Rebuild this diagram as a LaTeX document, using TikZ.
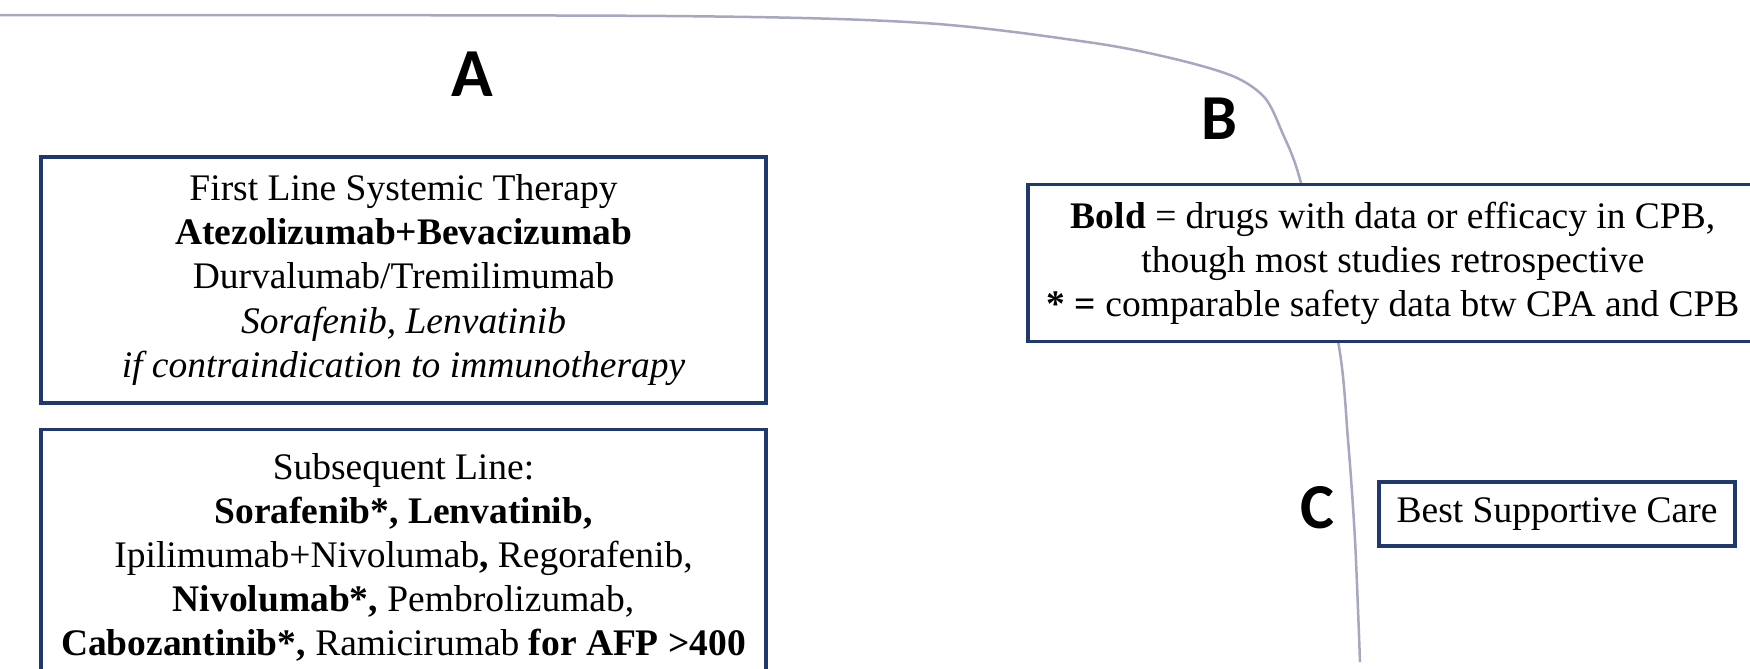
\documentclass[tikz,border=0pt]{standalone}
\usepackage{fontspec}
\setmainfont{Liberation Serif}
\newfontfamily\letterfont{Carlito}
\usetikzlibrary{positioning}
\definecolor{boxnavy}{RGB}{31,56,110}
\definecolor{curvegray}{RGB}{165,168,192}
\tikzset{>=stealth,
  drugbox/.style={draw=boxnavy, line width=1pt, fill=white, align=center, inner sep=0pt,
    font=\fontsize{12}{14.1}\selectfont},
  stagelabel/.style={inner sep=0pt, font=\letterfont\bfseries\fontsize{20.5}{21}\selectfont}}

\begin{document}
\begin{tikzpicture}[x=0.32pt,y=-0.32pt]
\useasboundingbox (0,0) rectangle (1750,668);
\clip (0,0) rectangle (1750,668);
% disease course curve
\draw[curvegray, line width=0.8pt] plot[smooth] coordinates {(0,15) (668,16) (924,23) (1094,43) (1179,60) (1235,77) (1265,98) (1282,132) (1301,183) (1338,341) (1348,440) (1355,540) (1360,662)};
\node[stagelabel, font=\letterfont\bfseries\fontsize{22}{22}\selectfont] (stageA) at (472,74) {A};
\node[stagelabel] (stageB) at (1219,119) {B};
\node[stagelabel] (stageC) at (1317,508) {C};
\node[drugbox, minimum width=232pt, minimum height=78.7pt] (firstline) at (403.5,280)
  {First Line Systemic Therapy\\ \textbf{Atezolizumab+Bevacizumab}\\ Durvalumab/Tremilimumab\\
   \textit{Sorafenib, Lenvatinib}\\ \textit{if contraindication to immunotherapy}};
\node[drugbox, minimum width=232pt, minimum height=81.9pt, below=7.4pt of firstline] (subsequent)
  {Subsequent Line:\\ \textbf{Sorafenib*, Lenvatinib,}\\ Ipilimumab+Nivolumab\textbf{,} Regorafenib,\\
   \textbf{Nivolumab*,} Pembrolizumab,\\ \textbf{Cabozantinib*,} Ramicirumab \textbf{for AFP >400}};
\node[drugbox, minimum width=233.6pt, minimum height=50.2pt] (legend) at (1393,263)
  {\textbf{Bold} = drugs with data or efficacy in CPB,\\ though most studies retrospective\\
   \textbf{* =} comparable safety data btw CPA and CPB};
\node[drugbox, minimum width=113.9pt, minimum height=20.5pt] (bsc) at (1557,514) {Best Supportive Care};
\end{tikzpicture}
\end{document}
